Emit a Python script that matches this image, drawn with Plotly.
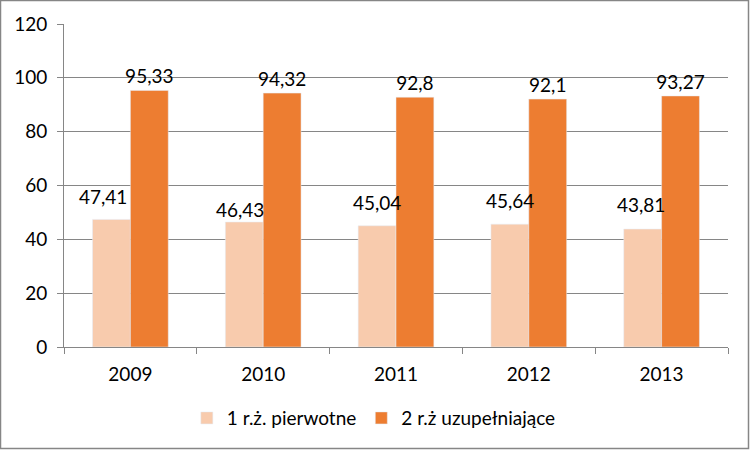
import plotly.graph_objects as go

years = ["2009", "2010", "2011", "2012", "2013"]
s1_name = "1 r.ż. pierwotne"
s2_name = "2 r.ż uzupełniające"
s1_vals = [47.41, 46.43, 45.04, 45.64, 43.81]
s2_vals = [95.33, 94.32, 92.8, 92.1, 93.27]
y_ticks = [0, 20, 40, 60, 80, 100, 120]
# manual label offsets (px) for series 1, as placed in the original
s1_label_dx = [-8, -4, 0, 0, -2]
s1_label_dy = [9, -1, 10, 10, 11]

def fmt(v):
    s = ("%.2f" % v).rstrip("0").rstrip(".")
    return s.replace(".", ",")

FONT = "Lato"
FS = 19
fig = go.Figure()
fig.add_trace(go.Bar(x=years, y=s1_vals, name=s1_name, marker_color="#F8CBAD"))
fig.add_trace(go.Bar(x=years, y=s2_vals, name=s2_name, marker_color="#ED7D31",
                     text=[fmt(v) for v in s2_vals], textposition="outside",
                     constraintext="none",
                     textfont=dict(family=FONT, size=FS, color="black"), cliponaxis=False))

W, H = 750, 450
L, R, T, B = 64, 22, 24, 103
pw, ph = W - L - R, H - T - B
cat_w = pw / len(years)
bar_w = cat_w * (1 - 0.43) / 2

for i, (v, dx, dy) in enumerate(zip(s1_vals, s1_label_dx, s1_label_dy)):
    fig.add_annotation(x=i, y=v, xref="x", yref="y", text=fmt(v), showarrow=False,
                       xanchor="center", yanchor="bottom",
                       xshift=-bar_w / 2 + dx, yshift=dy,
                       font=dict(family=FONT, size=FS, color="black"))

fig.update_layout(
    width=W, height=H, margin=dict(l=L, r=R, t=T, b=B),
    paper_bgcolor="white", plot_bgcolor="white",
    barmode="group", bargap=0.43, bargroupgap=0,
    font=dict(family=FONT, size=FS, color="black"),
    legend=dict(orientation="h", x=0.185, xanchor="left", y=-0.22, yanchor="middle",
                font=dict(family=FONT, size=FS), traceorder="normal"),
)
fig.update_xaxes(type="category", showline=True, linecolor="#868686", linewidth=1,
                 ticks="outside", tickson="boundaries", ticklen=6, tickcolor="#868686",
                 showgrid=False, tickfont=dict(family=FONT, size=FS), ticklabelstandoff=10)
fig.update_yaxes(range=[0, 120], tickvals=y_ticks, showline=True, linecolor="#868686",
                 linewidth=1, ticks="outside", ticklen=6, tickcolor="#868686",
                 showgrid=True, gridcolor="#868686", gridwidth=1, zeroline=False,
                 tickfont=dict(family=FONT, size=FS), ticklabelstandoff=6)
fig.add_shape(type="rect", xref="paper", yref="paper",
              x0=(-L + 0.5) / pw, x1=(pw + R - 1.5) / pw,
              y0=(-B + 1.5) / ph, y1=(ph + T - 0.5) / ph,
              line=dict(color="#868686", width=1.5), fillcolor="rgba(0,0,0,0)")
fig.write_html("out.html")
